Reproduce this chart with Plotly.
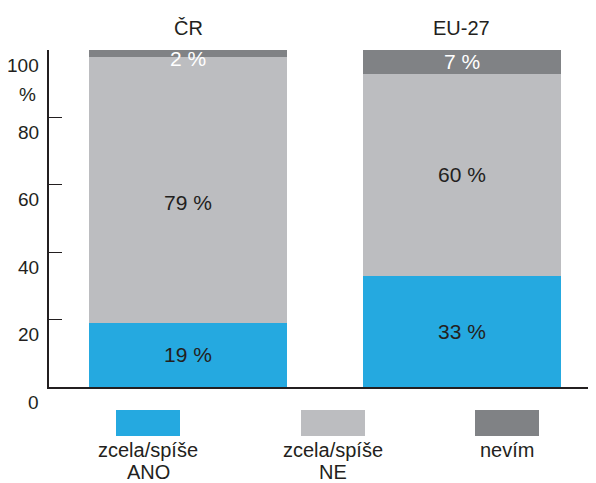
import plotly.graph_objects as go

categories = ["ČR", "EU-27"]
series_names = ["zcela/spíše<br>ANO", "zcela/spíše<br>NE", "nevím"]
ano = [19, 33]
ne = [79, 60]
nevim = [2, 7]
colors = ["#25A9E0", "#BCBDC0", "#808285"]
label_colors = ["#231F20", "#231F20", "#FFFFFF"]
# per-label vertical nudges in px (category x series)
label_nudge = [[0, -13, -5], [0, 0, 0]]
y_ticks = [0, 20, 40, 60, 80, 100]

FONT = "Liberation Sans, Arial, sans-serif"
DARK = "#231F20"

# the page body has an 8px default margin; compensate
OFF = 8
FW, FH = 596 - OFF, 483 - OFF
ML, MT, MB = 49 - OFF, 50 - OFF, FH - (387 - OFF)
PW = FW - ML
PH = FH - MT - MB

fig = go.Figure()
series = [ano, ne, nevim]
for name, vals, col in zip(series_names, series, colors):
    fig.add_trace(go.Bar(x=categories, y=vals, name=name, marker_color=col,
                         marker_line_width=0, showlegend=False, hoverinfo="skip"))

annotations = []
for i, cat in enumerate(categories):
    base = 0
    for s, vals in enumerate(series):
        v = vals[i]
        annotations.append(dict(x=cat, y=base + v / 2, xref="x", yref="y", text=f"{v} %",
                                showarrow=False, yshift=label_nudge[i][s],
                                xanchor="center", yanchor="middle",
                                font=dict(size=21, color=label_colors[s], family=FONT)))
        base += v
    annotations.append(dict(x=cat, y=100, xref="x", yref="y", text=cat, showarrow=False,
                            xanchor="center", yanchor="bottom", yshift=9,
                            font=dict(size=20, color=DARK, family=FONT)))

for t in y_ticks:
    annotations.append(dict(x=0, y=t, xref="paper", yref="y", text=str(t), showarrow=False,
                            xanchor="right", yanchor="middle", xshift=-8, yshift=-15,
                            font=dict(size=19, color=DARK, family=FONT)))
annotations.append(dict(x=0, y=90, xref="paper", yref="y", text="%", showarrow=False,
                        xanchor="right", yanchor="middle", xshift=-11, yshift=-11,
                        font=dict(size=19, color=DARK, family=FONT)))

# custom legend (page-pixel layout converted to paper coords)
def px_x(px):
    return (px - OFF - ML) / PW

def px_y(py):
    return (FH - MB - (py - OFF)) / PH

shapes = []
leg_centers = [148, 333, 507]
line_y = [450, 472]
for name, col, cx in zip(series_names, colors, leg_centers):
    shapes.append(dict(type="rect", xref="paper", yref="paper",
                       x0=px_x(cx - 32), x1=px_x(cx + 32),
                       y0=px_y(436), y1=px_y(410),
                       fillcolor=col, line_width=0))
    for k, line in enumerate(name.split("<br>")):
        annotations.append(dict(x=px_x(cx), y=px_y(line_y[k]), xref="paper", yref="paper",
                                text=line, showarrow=False, xanchor="center", yanchor="middle",
                                borderpad=0,
                                font=dict(size=20, color=DARK, family=FONT)))

fig.update_layout(
    width=FW, height=FH,
    margin=dict(l=ML, r=0, t=MT, b=MB, pad=0),
    barmode="stack", bargap=0.276,
    plot_bgcolor="white", paper_bgcolor="white",
    annotations=annotations, shapes=shapes,
    xaxis=dict(range=[-0.51, 1.49], showticklabels=False, ticks="", showgrid=False,
               showline=True, linecolor=DARK, linewidth=1.5, zeroline=False),
    yaxis=dict(range=[0, 100], tickvals=y_ticks, showticklabels=False, ticks="inside",
               ticklen=13, tickcolor=DARK, tickwidth=1, showgrid=False,
               showline=True, linecolor=DARK, linewidth=1.5, zeroline=False),
    font=dict(family=FONT, color=DARK),
)

fig.write_html("out.html")
